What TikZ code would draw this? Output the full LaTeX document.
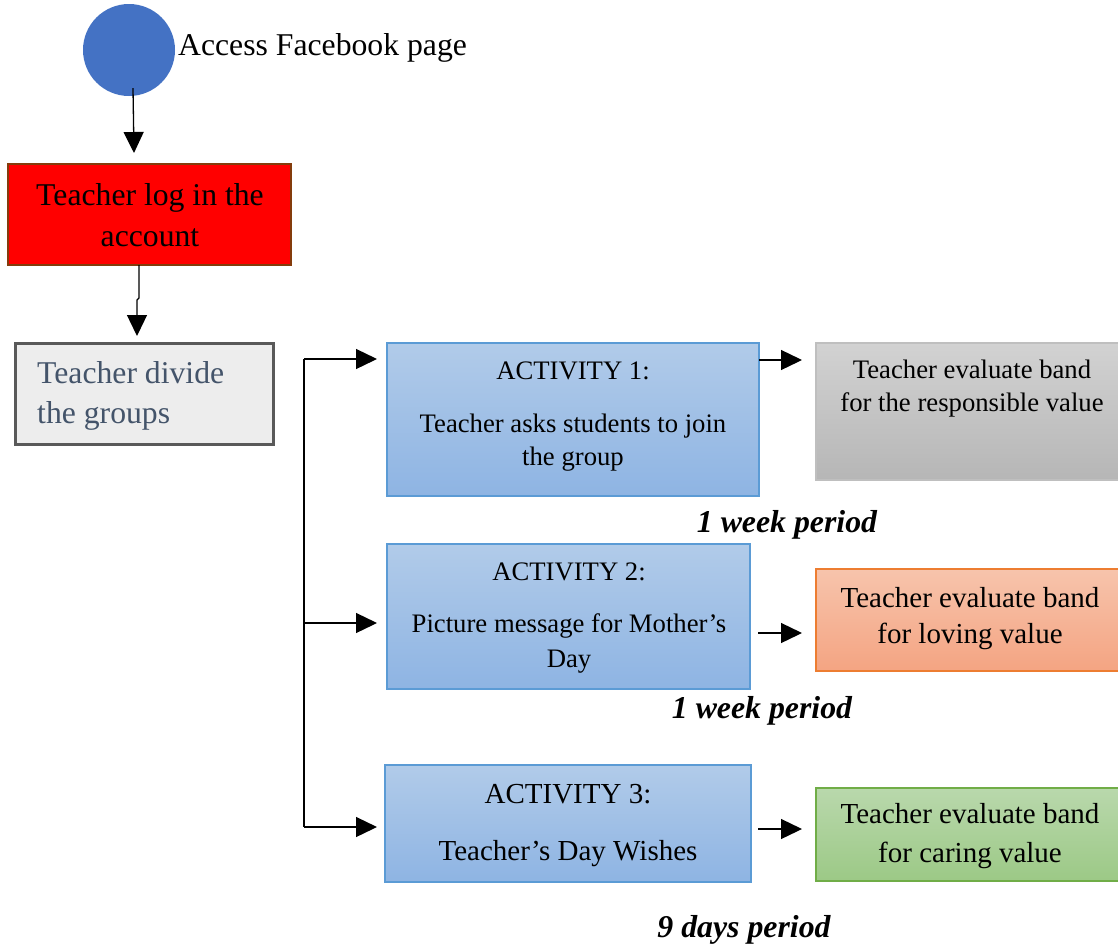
\documentclass[tikz,border=0pt]{standalone}
\usepackage{fontspec}
\setmainfont{Liberation Serif}
\usetikzlibrary{arrows.meta}
\definecolor{circblue}{HTML}{4472C4}
\definecolor{redborder}{HTML}{843C0C}
\definecolor{divborder}{HTML}{595959}
\definecolor{divfill}{HTML}{EDEDED}
\definecolor{divtext}{HTML}{44546A}
\definecolor{actborder}{HTML}{5B9BD5}
\definecolor{acttop}{HTML}{B1CBE9}
\definecolor{actbot}{HTML}{8EB4E3}
\definecolor{grayborder}{HTML}{BFBFBF}
\definecolor{graytop}{HTML}{D2D2D2}
\definecolor{graybot}{HTML}{B6B6B6}
\definecolor{orborder}{HTML}{ED7D31}
\definecolor{ortop}{HTML}{F7C4AC}
\definecolor{orbot}{HTML}{F4A482}
\definecolor{grborder}{HTML}{70AD47}
\definecolor{grtop}{HTML}{B9D8AC}
\definecolor{grbot}{HTML}{9CC986}
\begin{document}
\begin{tikzpicture}[x=1pt,y=-1pt,
  box/.style={anchor=north west, inner sep=0pt, outer sep=0pt},
  actbox/.style={box, draw=actborder, line width=1.2pt, top color=acttop, bottom color=actbot},
  txt/.style={inner sep=0pt, anchor=base},
  fa/.style={font=\fontsize{26.7}{32}\selectfont},
  fb/.style={font=\fontsize{29}{35}\selectfont},
  fc/.style={font=\fontsize{31.7}{38}\selectfont},
  per/.style={font=\fontsize{31.8}{38}\selectfont\bfseries\itshape},
  arr/.style={draw=black, line width=1.3pt, -{Triangle[length=21pt,width=20pt]}},
  ln/.style={draw=black, line width=1.3pt}]
\useasboundingbox (0,0) rectangle (1118,945);
\fill[white] (0,0) rectangle (1118,945);

% start circle
\node[circle, fill=circblue, minimum size=92pt, inner sep=0pt] (circ) at (129,50) {};
\node[txt, fc, anchor=base west] (acc) at (178,55) {Access Facebook page};

% red box
\node[box, draw=redborder, line width=2pt, fill=red, minimum width=283pt, minimum height=101pt] (red) at (8,164) {};
\node[txt, fc] (red1) at (150,205) {Teacher log in the};
\node[txt, fc] (red2) at (150,246) {account};

% divide box
\node[box, draw=divborder, line width=3pt, fill=divfill, minimum width=258pt, minimum height=101pt] (div) at (15,343) {};
\node[txt, fc, anchor=base west, text=divtext] (div1) at (37,383) {Teacher divide};
\node[txt, fc, anchor=base west, text=divtext] (div2) at (37,423) {the groups};

% activity boxes
\node[actbox, minimum width=372pt, minimum height=153pt] (act1) at (387,343) {};
\node[txt, fa] (a1t) at (573,379) {ACTIVITY 1:};
\node[txt, fa] (a1a) at (573,432) {Teacher asks students to join};
\node[txt, fa] (a1b) at (573,465) {the group};

\node[actbox, minimum width=363pt, minimum height=145pt] (act2) at (387,544) {};
\node[txt, fa] (a2t) at (569,580) {ACTIVITY 2:};
\node[txt, fa] (a2a) at (569,632) {Picture message for Mother’s};
\node[txt, fa] (a2b) at (569,667) {Day};

\node[actbox, minimum width=366pt, minimum height=117pt] (act3) at (385,765) {};
\node[txt, fb] (a3t) at (568,803) {ACTIVITY 3:};
\node[txt, fb] (a3a) at (568,860) {Teacher’s Day Wishes};

% evaluation boxes
\node[box, draw=grayborder, line width=1.5pt, top color=graytop, bottom color=graybot, minimum width=310pt, minimum height=137pt] (ev1) at (816,343) {};
\node[txt, fa] (e1a) at (972,378) {Teacher evaluate band};
\node[txt, fa] (e1b) at (972,411) {for the responsible value};

\node[box, draw=orborder, line width=1.5pt, top color=ortop, bottom color=orbot, minimum width=310pt, minimum height=102pt] (ev2) at (816,569) {};
\node[txt, fb] (e2a) at (970,607) {Teacher evaluate band};
\node[txt, fb] (e2b) at (970,643) {for loving value};

\node[box, draw=grborder, line width=1.5pt, top color=grtop, bottom color=grbot, minimum width=310pt, minimum height=93pt] (ev3) at (816,788) {};
\node[txt, fb] (e3a) at (970,823) {Teacher evaluate band};
\node[txt, fb] (e3b) at (970,862) {for caring value};

% periods
\node[txt, per] (p1) at (787,532) {1 week period};
\node[txt, per] (p2) at (762,718) {1 week period};
\node[txt, per] (p3) at (744,937) {9 days period};

% connectors
\coordinate (c1) at (134,153);
\draw[arr] ([xshift=4pt,yshift=8pt]circ.south) -- (c1);
\coordinate (c2) at (137,336);
\draw[arr] ([xshift=-10.5pt]red.south) -- ++(0,33) -- ++(-2,2) -- (c2);

\coordinate (s1) at (304,359);
\coordinate (s2) at (304,623);
\coordinate (s3) at (304,827);
\draw[ln] (s1) -- (s3);
\draw[arr, shorten >=10pt] (s1) -- (s1 -| act1.west);
\draw[arr, shorten >=10pt] (s2) -- (s2 -| act2.west);
\draw[arr, shorten >=8pt] (s3) -- (s3 -| act3.west);

\coordinate (b1) at (759,360);
\coordinate (b2) at (758,633);
\coordinate (b3) at (758,829);
\draw[arr, shorten >=14pt] (b1) -- (b1 -| ev1.west);
\draw[arr, shorten >=14pt] (b2) -- (b2 -| ev2.west);
\draw[arr, shorten >=14pt] (b3) -- (b3 -| ev3.west);
\end{tikzpicture}
\end{document}
